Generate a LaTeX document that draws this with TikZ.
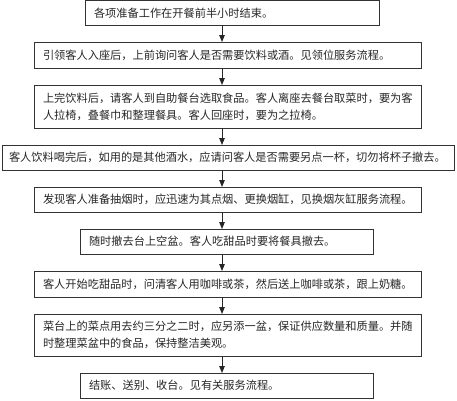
\documentclass[tikz,border=0pt]{standalone}
\usepackage{fontspec}
\setmainfont{Noto Sans CJK SC}
\usetikzlibrary{arrows.meta}
\begin{document}
\begin{tikzpicture}[x=1bp,y=-1bp,
  stepbox/.style={draw=black!80, line width=1bp, anchor=north west, inner xsep=9bp, inner ysep=1bp,
    outer sep=0pt, align=left, text=black!85, font=\fontsize{11.2bp}{17bp}\selectfont},
  arr/.style={draw=black!85, line width=1bp, -{Triangle[length=7bp,width=5.5bp]}}]
\useasboundingbox (0,0) rectangle (457,400);
\coordinate (ax) at (222,0);
\node[stepbox, minimum width=294bp, minimum height=24.5bp, text width=276bp] (b1) at (85,0.5)
  {各项准备工作在开餐前半小时结束。};
\node[stepbox, minimum width=387bp, minimum height=26bp, text width=369bp] (b2) at (34,42)
  {引领客人入座后，上前询问客人是否需要饮料或酒。见领位服务流程。};
\node[stepbox, minimum width=387bp, minimum height=43bp, text width=369bp] (b3) at (34,85)
  {上完饮料后，请客人到自助餐台选取食品。客人离座去餐台取菜时，要为客\\人拉椅，叠餐巾和整理餐具。客人回座时，要为之拉椅。};
\node[stepbox, inner xsep=7bp, minimum width=452bp, minimum height=25bp, text width=438bp] (b4) at (2,145)
  {客人饮料喝完后，如用的是其他酒水，应请问客人是否需要另点一杯，切勿将杯子撤去。};
\node[stepbox, minimum width=387bp, minimum height=25bp, text width=369bp] (b5) at (34,187)
  {发现客人准备抽烟时，应迅速为其点烟、更换烟缸，见换烟灰缸服务流程。};
\node[stepbox, minimum width=293bp, minimum height=25bp, text width=275bp] (b6) at (80,229)
  {随时撤去台上空盆。客人吃甜品时要将餐具撤去。};
\node[stepbox, minimum width=387bp, minimum height=26bp, text width=369bp] (b7) at (34,271)
  {客人开始吃甜品时，问清客人用咖啡或茶，然后送上咖啡或茶，跟上奶糖。};
\node[stepbox, minimum width=387bp, minimum height=42bp, text width=369bp] (b8) at (34,314)
  {菜台上的菜点用去约三分之二时，应另添一盆，保证供应数量和质量。并随\\时整理菜盆中的食品，保持整洁美观。};
\node[stepbox, minimum width=293bp, minimum height=25bp, text width=275bp] (b9) at (80,373)
  {结账、送别、收台。见有关服务流程。};
\foreach \a/\b in {b1/b2,b2/b3,b3/b4,b4/b5,b5/b6,b6/b7,b7/b8,b8/b9}
  \draw[arr] (ax |- \a.south) -- (ax |- \b.north);
\end{tikzpicture}
\end{document}
